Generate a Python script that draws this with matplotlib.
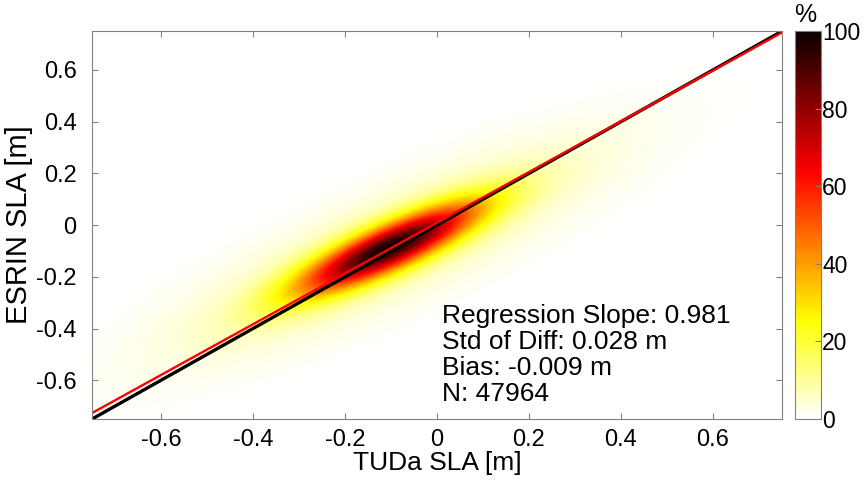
import numpy as np
import matplotlib
matplotlib.use("Agg")
import matplotlib.pyplot as plt

plt.rcParams['font.family'] = ['Liberation Sans', 'DejaVu Sans']

# axis range and ticks
LIM = 0.75
ticks = [-0.6, -0.4, -0.2, 0, 0.2, 0.4, 0.6]
tick_labels = ['-0.6', '-0.4', '-0.2', '0', '0.2', '0.4', '0.6']
cbar_ticks = [0, 20, 40, 60, 80, 100]

# density shape (core + faint halo)
center = (-0.105, -0.09)
sig_x = 0.135
sig_y = 0.12
rho = 0.85
halo_scale = 2.2
halo_weight = 0.12

# regression numbers
slope = 0.981
intercept = 0.009
stats = ["Regression Slope: 0.981", "Std of Diff: 0.028 m", "Bias: -0.009 m", "N: 47964"]

# density field on a grid
gx = np.linspace(-LIM, LIM, 500)
gy = np.linspace(-LIM, LIM, 500)
X, Y = np.meshgrid(gx, gy)
dx = (X - center[0]) / sig_x
dy = (Y - center[1]) / sig_y
Q = (dx**2 - 2 * rho * dx * dy + dy**2) / (1 - rho**2)
dens = (1 - halo_weight) * np.exp(-Q / 2) + halo_weight * np.exp(-Q / (2 * halo_scale**2))
dens = 100 * dens / dens.max()

fig = plt.figure(figsize=(8.64, 4.8), dpi=100)
ax = fig.add_axes([0.1065, 0.127, 0.7985, 0.808])
cax = fig.add_axes([0.920, 0.127, 0.030, 0.808])

im = ax.imshow(dens, extent=[-LIM, LIM, -LIM, LIM], origin='lower', cmap='hot_r',
               vmin=0, vmax=100, aspect='auto', interpolation='bilinear')

xl = np.array([-LIM, LIM])
ax.plot(xl, xl, color='black', lw=2.4, solid_capstyle='butt')
ax.plot(xl, slope * xl + intercept, color='red', lw=1.7, solid_capstyle='butt')

ax.set_xlim(-LIM, LIM)
ax.set_ylim(-LIM, LIM)
ax.set_xticks(ticks)
ax.set_xticklabels(tick_labels)
ax.set_yticks(ticks)
ax.set_yticklabels(tick_labels)
ax.tick_params(direction='in', length=4, color='0.5', labelsize=17, top=True, right=True)
ax.tick_params(axis='y', pad=11)
ax.tick_params(axis='x', pad=7)
for s in ax.spines.values():
    s.set_color('0.5')
ax.set_xlabel("TUDa SLA [m]", fontsize=19, labelpad=0)
ax.set_ylabel("ESRIN SLA [m]", fontsize=21, labelpad=2)

ax.text(0.012, -0.305, "\n".join(stats), fontsize=19, va='top', ha='left', linespacing=1.1)

cb = fig.colorbar(im, cax=cax, ticks=cbar_ticks)
cb.outline.set_edgecolor('0.5')
cax.tick_params(direction='in', length=4, color='0.5', labelsize=16.5, pad=1)
cax.text(0.4, 1.01, "%", transform=cax.transAxes, fontsize=18, ha='center', va='bottom')

fig.savefig("out.png", dpi=100)
